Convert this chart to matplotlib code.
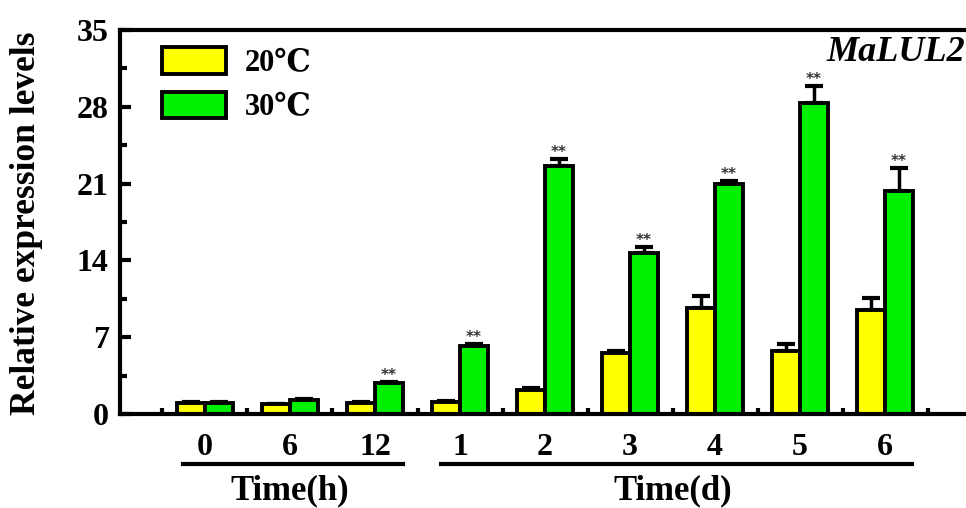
import numpy as np
import matplotlib.pyplot as plt
from matplotlib.ticker import MultipleLocator

# data
groups = ['0', '6', '12', '1', '2', '3', '4', '5', '6']
t20 = [1.0, 0.9, 1.0, 1.1, 2.2, 5.6, 9.7, 5.7, 9.5]
t30 = [1.0, 1.3, 2.8, 6.2, 22.6, 14.7, 21.0, 28.3, 20.3]
err20 = [0.05, 0.05, 0.05, 0.1, 0.15, 0.1, 1.1, 0.7, 1.1]
err30 = [0.05, 0.1, 0.15, 0.2, 0.6, 0.5, 0.2, 1.6, 2.1]
sig30 = ['', '', '**', '**', '**', '**', '**', '**', '**']

plt.rcParams['font.family'] = ['Liberation Serif', 'DejaVu Serif']
plt.rcParams['font.weight'] = 'bold'

fig = plt.figure(figsize=(9.66, 5.08), dpi=100)
ax = fig.add_axes([0.1242, 0.185, 0.924, 0.756])

x = np.arange(len(groups))
w = 0.33
lw = 2.8
ax.bar(x - w / 2, t20, w, color='#FFFF00', edgecolor='black', linewidth=lw,
       label='20℃', zorder=2)
ax.bar(x + w / 2, t30, w, color='#00F000', edgecolor='black', linewidth=lw,
       label='30℃', zorder=2)

zeros = [0] * len(groups)
ax.errorbar(x - w / 2, t20, yerr=[zeros, err20], fmt='none', ecolor='black',
            elinewidth=2.5, capsize=6.5, capthick=3, zorder=1)
ax.errorbar(x + w / 2, t30, yerr=[zeros, err30], fmt='none', ecolor='black',
            elinewidth=2.5, capsize=6.5, capthick=3, zorder=1)

# significance marks
for xi, v, e, s in zip(x, t30, err30, sig30):
    if s:
        ax.text(xi + w / 2, v + e + 0.6, s, ha='center', va='center',
                fontsize=11, color='#333333', family='DejaVu Sans')

ax.set_xlim(-1, 9.5)
ax.set_ylim(0, 35)
ax.yaxis.set_major_locator(MultipleLocator(7))
ax.yaxis.set_minor_locator(MultipleLocator(3.5))
ax.set_xticks(x)
ax.set_xticklabels(groups, fontsize=23)
ax.set_xticks(np.arange(-0.5, 9, 1), minor=True)
ax.tick_params(axis='x', which='major', length=0, pad=14)
ax.tick_params(axis='x', which='minor', direction='in', length=4, width=3)
ax.tick_params(axis='y', which='major', direction='in', length=8, width=3,
               labelsize=23, pad=8)
ax.tick_params(axis='y', which='minor', direction='in', length=5, width=3)

for side in ['left', 'bottom', 'top']:
    ax.spines[side].set_linewidth(3)
ax.spines['right'].set_visible(False)

# group lines and labels under the axis
ax.plot([-0.26, 2.33], [-4.56, -4.56], color='black', lw=3, clip_on=False)
ax.plot([2.78, 8.32], [-4.56, -4.56], color='black', lw=3, clip_on=False)
ax.text(1.0, -7.0, 'Time(h)', ha='center', va='center', fontsize=25)
ax.text(5.5, -7.0, 'Time(d)', ha='center', va='center', fontsize=25)

fig.text(0.027, 0.56, 'Relative expression levels', rotation=90,
         ha='center', va='center', fontsize=25.5)
fig.text(0.999, 1 - 61 / 508, 'MaLUL2', ha='right', va='baseline',
         fontsize=26, style='italic')

ax.legend(loc='upper left', bbox_to_anchor=(0.047, 0.955), frameon=False,
          fontsize=22, handlelength=2.1, handleheight=0.95, labelspacing=0.45,
          borderpad=0, borderaxespad=0, handletextpad=0.6)

fig.savefig('out.png', dpi=100)
